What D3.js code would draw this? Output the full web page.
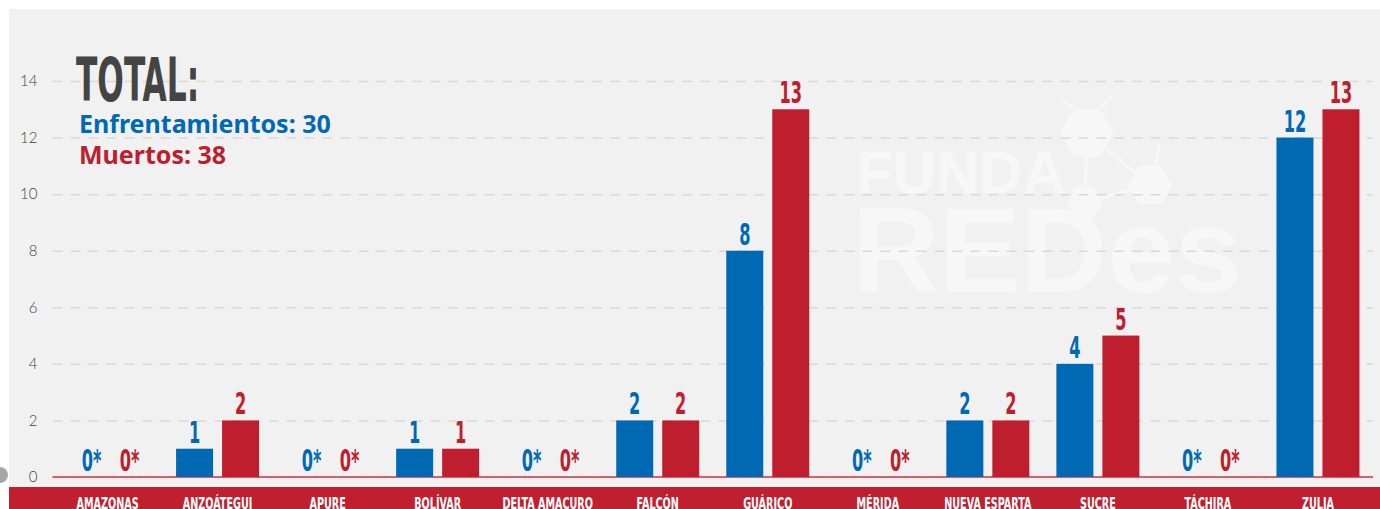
<!DOCTYPE html>
<html>
<head>
<meta charset="utf-8">
<script src="https://cdn.jsdelivr.net/npm/d3@7"></script>
<style>
  body { margin: 0; background: #ffffff; }
  svg { display: block; }
</style>
</head>
<body>
<svg id="chart"></svg>
<script>
// data
var categories = ["AMAZONAS", "ANZOÁTEGUI", "APURE", "BOLÍVAR", "DELTA AMACURO", "FALCÓN",
                  "GUÁRICO", "MÉRIDA", "NUEVA ESPARTA", "SUCRE", "TÁCHIRA", "ZULIA"];
var enfrentamientos = [0, 1, 0, 1, 0, 2, 8, 0, 2, 4, 0, 12];
var muertos = [0, 2, 0, 1, 0, 2, 13, 0, 2, 5, 0, 13];
var seriesNames = ["Enfrentamientos", "Muertos"];
var seriesColors = ["#0069b4", "#be1e2d"];
var yTicks = [0, 2, 4, 6, 8, 10, 12, 14];

// plot area (note: "top" is reserved on window, so prefix these)
var W = 1380, H = 509;
var plotLeft = 52.5, plotRight = 1373, plotTop = 81, plotBottom = 477;
var narrow = "'Liberation Sans Narrow', 'DejaVu Sans Condensed', sans-serif";

var svg = d3.select("#chart").attr("width", W).attr("height", H);

// panel + bottom band
svg.append("rect").attr("x", 9).attr("y", 9).attr("width", W - 9).attr("height", 478).attr("fill", "#f1f1f1");
svg.append("rect").attr("x", 9).attr("y", 487).attr("width", W - 9).attr("height", 22).attr("fill", "#c01f2f");
svg.append("circle").attr("cx", 0).attr("cy", 475).attr("r", 8).attr("fill", "#a6a6a6");

var x = d3.scaleBand().domain(categories).range([plotLeft, plotRight]).paddingInner(0.2457).paddingOuter(0.123);
var xSub = d3.scaleBand().domain(seriesNames).range([0, x.bandwidth()]).paddingInner(0.1957);
var y = d3.scaleLinear().domain([0, 14]).range([plotBottom, plotTop]);

/*
 *    W A T E R M A R K
 */
var wm = svg.append("g").attr("fill", "#f7f7f7").attr("stroke", "none");
function hexagon(cx, cy, r) {
  return d3.range(6).map(function(i) {
    var a = Math.PI / 3 * i;
    return [cx + r * Math.cos(a), cy + r * Math.sin(a)].join(",");
  }).join(" ");
}
[[1087, 133, 27], [1150, 185, 22], [1085, 202, 18]].forEach(function(h) {
  wm.append("polygon").attr("points", hexagon(h[0], h[1], h[2]));
});
wm.append("g").attr("stroke", "#f7f7f7").attr("stroke-width", 3)
  .selectAll("line")
  .data([[1087, 133, 1150, 185], [1087, 133, 1085, 202], [1085, 202, 1150, 185],
         [1075, 108, 1060, 100], [1100, 108, 1112, 97], [1155, 165, 1160, 145]])
  .enter().append("line")
    .attr("x1", function(d) { return d[0]; }).attr("y1", function(d) { return d[1]; })
    .attr("x2", function(d) { return d[2]; }).attr("y2", function(d) { return d[3]; });
wm.append("text").attr("x", 856).attr("y", 193)
  .style("font-family", "'Liberation Sans', sans-serif").style("font-weight", 700).style("font-size", "60px")
  .text("FUNDA");
wm.append("text").attr("x", 852).attr("y", 292)
  .style("font-family", "'Liberation Sans', sans-serif").style("font-weight", 700).style("font-size", "121px")
  .text("REDes");

/*
 *    A X I S
 */
var yAxis = svg.append("g")
  .attr("transform", "translate(" + plotLeft + ",0)")
  .call(d3.axisLeft(y).tickValues(yTicks).tickSize(-(plotRight - plotLeft)).tickPadding(15));
yAxis.select(".domain").remove();
yAxis.selectAll(".tick line")
  .attr("stroke", "#d9d9d9")
  .attr("stroke-width", 1.5)
  .attr("stroke-dasharray", "10,8");
yAxis.selectAll(".tick text")
  .attr("fill", "#444")
  .style("font-family", "Lato, sans-serif")
  .style("font-weight", 300)
  .style("font-size", "15px");

// baseline
svg.append("line")
  .attr("x1", plotLeft).attr("x2", plotRight)
  .attr("y1", y(0)).attr("y2", y(0))
  .attr("stroke", "#d4616c").attr("stroke-width", 2);

/*
 *    B A R S
 */
var rows = categories.map(function(c, i) {
  return { cat: c, values: [enfrentamientos[i], muertos[i]] };
});

var groups = svg.selectAll(".group")
  .data(rows)
  .enter().append("g")
    .attr("class", "group")
    .attr("transform", function(d) { return "translate(" + x(d.cat) + ",0)"; });

var cells = groups.selectAll(".cell")
  .data(function(d) {
    return d.values.map(function(v, j) { return { name: seriesNames[j], value: v, j: j }; });
  })
  .enter().append("g").attr("class", "cell");

cells.filter(function(d) { return d.value > 0; })
  .append("rect")
    .attr("x", function(d) { return xSub(d.name); })
    .attr("y", function(d) { return y(d.value); })
    .attr("width", xSub.bandwidth())
    .attr("height", function(d) { return y(0) - y(d.value); })
    .attr("fill", function(d) { return seriesColors[d.j]; });

// value labels (0* where nothing was reported)
cells.append("text")
  .attr("transform", function(d) {
    var cx = xSub(d.name) + xSub.bandwidth() / 2;
    if (d.value === 0) cx += d.j === 0 ? 7 : -1;
    return "translate(" + cx + "," + (y(d.value) - 6) + ") scale(0.58,1)";
  })
  .attr("text-anchor", "middle")
  .attr("fill", function(d) { return seriesColors[d.j]; })
  .style("font-family", narrow)
  .style("font-weight", 700)
  .style("font-size", "31px")
  .text(function(d) { return d.value === 0 ? "0*" : d.value; });

// category labels in the red band
svg.selectAll(".catLabel")
  .data(categories)
  .enter().append("text")
    .attr("class", "catLabel")
    .attr("transform", function(d) {
      return "translate(" + (x(d) + x.bandwidth() / 2) + ",509) scale(0.67,1)";
    })
    .attr("text-anchor", "middle")
    .attr("fill", "#ffffff")
    .style("font-family", narrow)
    .style("font-weight", 700)
    .style("font-size", "16px")
    .text(function(d) { return d; });

/*
 *    T O T A L S
 */
svg.append("text")
  .attr("transform", "translate(76,101) scale(0.57,1)")
  .attr("fill", "#444444")
  .style("font-family", narrow)
  .style("font-weight", 700)
  .style("font-size", "61px")
  .text("TOTAL:");

[enfrentamientos, muertos].forEach(function(vals, j) {
  svg.append("text")
    .attr("x", 79)
    .attr("y", 133 + j * 31)
    .attr("fill", seriesColors[j])
    .style("font-family", "'Noto Sans', sans-serif")
    .style("font-weight", 700)
    .style("font-size", "25px")
    .text(seriesNames[j] + ": " + d3.sum(vals));
});
</script>
</body>
</html>
